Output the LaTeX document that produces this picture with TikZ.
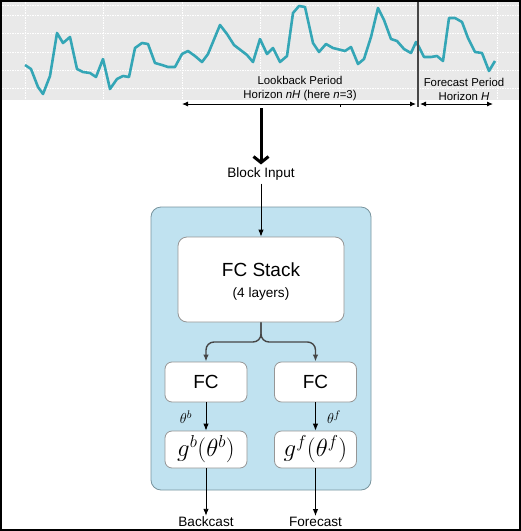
\documentclass[tikz,border=0pt]{standalone}
\usepackage{fontspec}
\setmainfont{Liberation Sans}
\usetikzlibrary{arrows.meta}
\definecolor{chartgrey}{RGB}{233,233,233}
\definecolor{serieslne}{RGB}{52,166,182}
\definecolor{blockblue}{RGB}{192,226,240}
\definecolor{blockedge}{RGB}{120,148,158}
\definecolor{boxedge}{RGB}{150,150,150}
\definecolor{splitline}{RGB}{70,70,70}
\tikzset{
    every node/.style={inner sep=0pt, font=\fontsize{13.6}{16}\selectfont}
}
\tikzset{
    box/.style={draw=boxedge, fill=white, rounded corners=7pt, line width=0.8pt}
}
\tikzset{
    every edge/.append style={line width=0.9pt, -{Latex[length=7pt,width=5.5pt]}}
}

\begin{document}
\begin{tikzpicture}[x=1pt, y=-1pt]
	\useasboundingbox (0,0) rectangle (521,531);
	% chart
	\fill[chartgrey] (2,2) rectangle (519,100);
	\draw[white, line width=0.9pt, dash pattern=on 1.5pt off 1pt] (2,5) -- (519,5) (2,15) -- (519,15) (2,33) -- (519,33)
		(2,52) -- (519,52) (2,70) -- (519,70) (2,88) -- (519,88);
	\draw[white, line width=0.9pt, dash pattern=on 1.5pt off 1pt] (25,2) -- (25,100) (103,2) -- (103,100) (182,2) -- (182,100)
		(260,2) -- (260,100) (339,2) -- (339,100) (497,2) -- (497,100);
	\draw[serieslne, line width=2.6pt, line join=round] plot coordinates {
		(25,65) (31,69) (38,87) (43,94) (50,76) (57,33) (63,43) (70,37)
		(77,69) (83,72) (90,73) (96,77) (103,59) (110,89) (117,79) (123,76)
		(129,77) (135,48) (142,43) (148,44) (155,63) (162,65) (168,67) (175,67)
		(182,54) (188,51) (195,56) (202,62) (208,54) (220,25) (227,34) (234,45)
		(247,55) (253,62) (260,39) (267,54) (273,48) (280,62) (287,56) (293,13)
		(299,6) (305,7) (313,43) (319,52) (326,44) (333,48) (345,51) (351,47)
		(358,64) (364,59) (371,37) (378,8) (384,20) (391,39) (397,41) (404,49)
		(411,53) (416,42) (419,47) (424,57) (431,57) (437,56) (443,61) (449,18)
		(455,18) (462,22) (468,38) (475,52) (482,53) (489,71) (495,61)};
	\draw[splitline, line width=1.4pt] (418,0) -- (418,107);
	\node (lookback) [align=center, font=\fontsize{11.4}{14}\selectfont] at (300,89)
		{Lookback Period\\Horizon \textit{nH} (here \textit{n}=3)};
	\node (forecast) [align=center, font=\fontsize{11.4}{14}\selectfont] at (464,89)
		{Forecast Period\\Horizon \textit{H}};
	\coordinate (lbstart) at (182,104);
	\coordinate (lbend) at (416,104);
	\coordinate (fcstart) at (420,104);
	\coordinate (fcend) at (493,104);
	\coordinate (lbtick) at (340,104);
	\coordinate (lbdrop) at (261,108);
	\draw[line width=0.9pt, {Latex[length=6pt,width=5pt]}-{Latex[length=6pt,width=5pt]}] (lbstart) -- (lbend);
	\draw[line width=0.9pt, {Latex[length=6pt,width=5pt]}-{Latex[length=6pt,width=5pt]}] (fcstart) -- (fcend);
	\draw[line width=0.8pt] (lbtick) -- ++(0,3);

	% N-BEATS block
	\node (input) at (261,174) {Block Input};
	\node (block) [draw=blockedge, fill=blockblue, rounded corners=10pt, line width=0.8pt,
		minimum width=220pt, minimum height=283pt] at (261,348.5) {};
	\node (stack) [box, minimum width=166pt, minimum height=85pt, rounded corners=9pt] at (261,279.5) {};
	\node (stacktitle) [font=\fontsize{19}{22}\selectfont] at (261,270) {FC Stack};
	\node (stacksub) at (261,294) {(4 layers)};
	\node (fcb) [box, minimum width=82pt, minimum height=40pt, font=\fontsize{19}{22}\selectfont] at (206,382) {FC};
	\node (fcf) [box, minimum width=82pt, minimum height=40pt, font=\fontsize{19}{22}\selectfont] at (315.5,382) {FC};
	\node (gb) [box, minimum width=82pt, minimum height=37pt, font=\fontsize{24}{28}\selectfont] at (206,449.5) {$g^b(\theta^b)$};
	\node (gf) [box, minimum width=82pt, minimum height=37pt, font=\fontsize{24}{28}\selectfont] at (315.5,449.5) {$g^f(\theta^f)$};
	\node (thetab) [font=\fontsize{15}{17}\selectfont] at (186,417) {$\theta^b$};
	\node (thetaf) [font=\fontsize{15}{17}\selectfont] at (334,417) {$\theta^f$};
	\node (backcast) at (206,522) {Backcast};
	\node (forecastout) at (315.5,522) {Forecast};
	\coordinate (split) at (261,342);

	\draw[line width=3pt, -{Straight Barb[length=6pt,width=15pt]}] (lbdrop) -- ([yshift=3pt]input.north);
	\draw (input.south) ++(0,-3pt) coordinate (inputfoot) edge (stack.north);
	\draw[splitline, line width=1.4pt, rounded corners=8pt, -{Latex[length=7pt,width=5.5pt]}] (stack.south) -- (split) -| (fcb.north);
	\draw[splitline, line width=1.4pt, rounded corners=8pt, -{Latex[length=7pt,width=5.5pt]}] (stack.south) -- (split) -| (fcf.north);
	\draw (fcb) edge (gb); \draw (fcf) edge (gf);
	\draw (gb) edge ([yshift=1pt]backcast.north); \draw (gf) edge ([yshift=1pt]forecastout.north);

	% frame
	\draw[line width=2pt] (1,1) rectangle (520,530);
\end{tikzpicture}
\end{document}
